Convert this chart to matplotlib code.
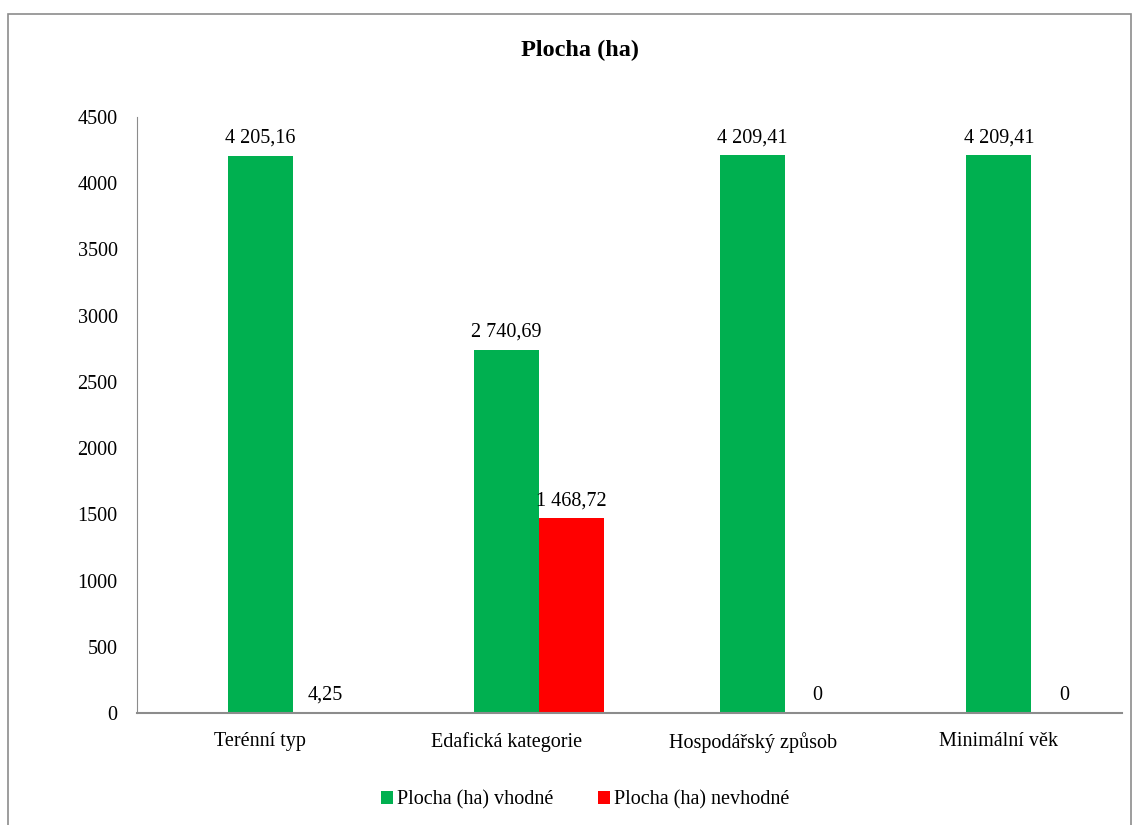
import numpy as np
import matplotlib.pyplot as plt
from matplotlib.patches import Rectangle

plt.rcParams['font.family'] = ['Liberation Serif', 'DejaVu Serif']

categories = ["Terénní typ", "Edafická kategorie", "Hospodářský způsob", "Minimální věk"]
vhodne = [4205.16, 2740.69, 4209.41, 4209.41]
nevhodne = [4.25, 1468.72, 0, 0]
series_names = ["Plocha (ha) vhodné", "Plocha (ha) nevhodné"]
yticks = [0, 500, 1000, 1500, 2000, 2500, 3000, 3500, 4000, 4500]


def fmt(v):
    if v == 0:
        return "0"
    s = f"{v:,.2f}"
    return s.replace(",", " ").replace(".", ",")


fig = plt.figure(figsize=(11.39, 8.25), dpi=100)
ax = fig.add_axes([137 / 1139, 1 - 713 / 825, 985 / 1139, 596 / 825])

x = np.arange(len(categories))
w = 0.264
b1 = ax.bar(x, vhodne, w, color="#00B050", label=series_names[0])
b2 = ax.bar(x + w, nevhodne, w, color="#FF0000", label=series_names[1])

for bars, vals in ((b1, vhodne), (b2, nevhodne)):
    for r, v in zip(bars, vals):
        ax.annotate(fmt(v), (r.get_x() + r.get_width() / 2, v),
                    xytext=(0, 6), textcoords="offset points",
                    ha="center", va="bottom", fontsize=14.5)

ax.set_xlim(-0.5, len(categories) - 0.5)
ax.set_ylim(0, 4500)
ax.set_yticks(yticks)
ax.set_yticklabels([str(t) for t in yticks], fontsize=14.5)
ax.set_xticks(x)
ax.set_xticklabels(categories, fontsize=14.5)
ax.tick_params(axis="both", length=0)
ax.tick_params(axis="y", pad=14)
ax.tick_params(axis="x", pad=14)
for s in ("top", "right"):
    ax.spines[s].set_visible(False)
for s in ("left", "bottom"):
    ax.spines[s].set_color("#8c8c8c")
ax.spines["left"].set_linewidth(0.8)
ax.spines["bottom"].set_linewidth(1.5)

fig.text(580 / 1139, 1 - 50 / 825, "Plocha (ha)", ha="center", va="center",
         fontsize=17.5, fontweight="bold")

fig.legend(loc="center", bbox_to_anchor=(585 / 1139, 1 - 800 / 825), ncol=2,
           frameon=False, fontsize=14.5, handlelength=0.6, handleheight=0.6,
           handletextpad=0.2, columnspacing=2.2)

# chart border (cut off at the bottom like the original)
fig.patches.append(Rectangle((8 / 1139, -0.05), 1123 / 1139, 1.05 - 14 / 825,
                             transform=fig.transFigure, fill=False,
                             edgecolor="#8c8c8c", linewidth=1.2))

fig.savefig("out.png", dpi=100)
